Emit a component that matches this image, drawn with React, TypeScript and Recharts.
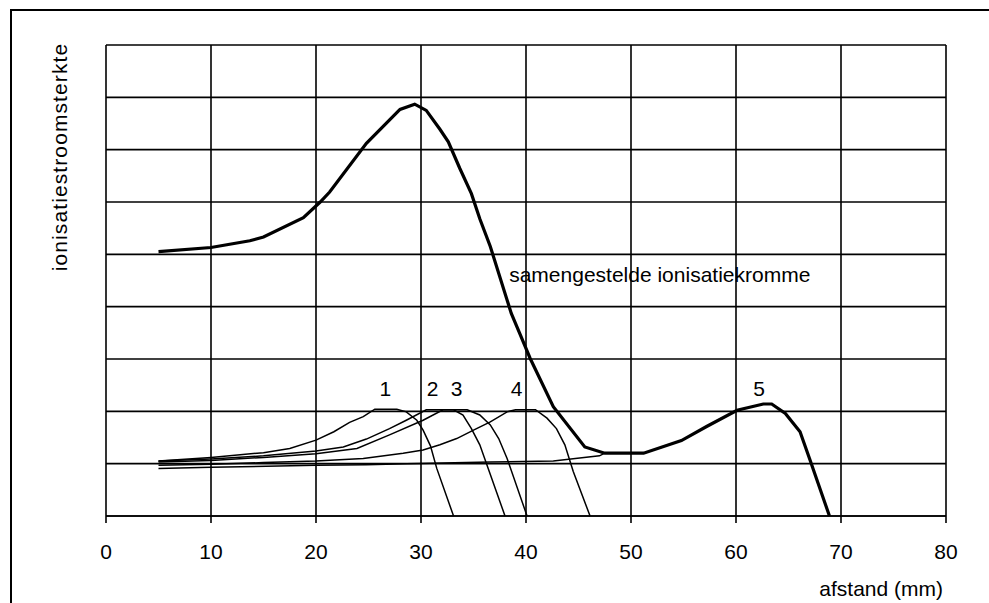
import { LineChart, Line, XAxis, YAxis, CartesianGrid, Scatter } from "recharts";

const xTicks = [0, 10, 20, 30, 40, 50, 60, 70, 80];
const yTicks = [0, 1, 2, 3, 4, 5, 6, 7, 8, 9];

// individual ionisation curves (x in mm, y in grid units)
const curve1 = [
  { x: 5, y: 1.05 }, { x: 10, y: 1.12 }, { x: 15, y: 1.21 }, { x: 17.5, y: 1.29 },
  { x: 20, y: 1.45 }, { x: 21.7, y: 1.61 }, { x: 23.2, y: 1.79 }, { x: 24.5, y: 1.9 },
  { x: 25.6, y: 2.04 }, { x: 27.7, y: 2.04 }, { x: 28.6, y: 1.99 }, { x: 29.6, y: 1.83 },
  { x: 30.2, y: 1.64 }, { x: 30.9, y: 1.34 }, { x: 31.5, y: 0.91 }, { x: 33.1, y: 0 },
];
const curve2 = [
  { x: 5, y: 1.05 }, { x: 10, y: 1.09 }, { x: 15, y: 1.15 }, { x: 20, y: 1.24 },
  { x: 22.6, y: 1.32 }, { x: 24.8, y: 1.47 }, { x: 27, y: 1.67 }, { x: 28.6, y: 1.83 },
  { x: 30.5, y: 2.03 }, { x: 33.1, y: 2.03 }, { x: 34, y: 1.93 }, { x: 34.8, y: 1.67 },
  { x: 35.6, y: 1.36 }, { x: 36.4, y: 0.91 }, { x: 38, y: 0 },
];
const curve3 = [
  { x: 5, y: 1.03 }, { x: 10, y: 1.06 }, { x: 15, y: 1.12 }, { x: 20, y: 1.19 },
  { x: 23.9, y: 1.29 }, { x: 27, y: 1.55 }, { x: 30.2, y: 1.83 }, { x: 32.1, y: 2.03 },
  { x: 34.4, y: 2.03 }, { x: 35.6, y: 1.93 }, { x: 36.6, y: 1.74 }, { x: 37.4, y: 1.48 },
  { x: 38.2, y: 1.1 }, { x: 40.1, y: 0 },
];
const curve4 = [
  { x: 5, y: 0.97 }, { x: 10, y: 0.99 }, { x: 15, y: 1.02 }, { x: 20, y: 1.05 },
  { x: 24.5, y: 1.1 }, { x: 28.3, y: 1.2 }, { x: 30.2, y: 1.26 }, { x: 31.8, y: 1.36 },
  { x: 33.4, y: 1.48 }, { x: 35, y: 1.64 }, { x: 36.6, y: 1.8 }, { x: 38.2, y: 1.99 },
  { x: 39, y: 2.03 }, { x: 40.9, y: 2.03 }, { x: 42, y: 1.87 }, { x: 42.9, y: 1.67 },
  { x: 43.7, y: 1.36 }, { x: 44.5, y: 0.85 }, { x: 46.1, y: 0 },
];
const curve5 = [
  { x: 5, y: 0.91 }, { x: 10, y: 0.93 }, { x: 20, y: 0.97 }, { x: 24.8, y: 0.98 },
  { x: 28.6, y: 1.0 }, { x: 36.6, y: 1.03 }, { x: 42.6, y: 1.05 }, { x: 47, y: 1.15 },
  { x: 47.5, y: 1.2 },
];

// samengestelde ionisatiekromme
const composite = [
  { x: 5, y: 5.05 }, { x: 10, y: 5.13 }, { x: 13.7, y: 5.26 }, { x: 15, y: 5.33 },
  { x: 18.8, y: 5.7 }, { x: 20.4, y: 6.0 }, { x: 21.3, y: 6.19 }, { x: 24.8, y: 7.12 },
  { x: 28, y: 7.77 }, { x: 29.4, y: 7.87 }, { x: 30.5, y: 7.75 }, { x: 31.8, y: 7.39 },
  { x: 32.6, y: 7.15 }, { x: 33.7, y: 6.64 }, { x: 34.8, y: 6.16 }, { x: 35.6, y: 5.68 },
  { x: 36.6, y: 5.15 }, { x: 38.6, y: 3.87 }, { x: 39.4, y: 3.49 }, { x: 40.4, y: 3.01 },
  { x: 42.6, y: 2.09 }, { x: 45.6, y: 1.32 }, { x: 47.5, y: 1.2 }, { x: 51.2, y: 1.2 },
  { x: 54.8, y: 1.44 }, { x: 57.2, y: 1.71 }, { x: 60.1, y: 2.02 }, { x: 62.6, y: 2.14 },
  { x: 63.4, y: 2.14 }, { x: 64.7, y: 1.96 }, { x: 66.1, y: 1.61 }, { x: 67, y: 1.1 },
  { x: 68.9, y: 0 },
];

const peakLabels = [
  { x: 26.6, y: 2.44, text: "1" },
  { x: 31.1, y: 2.44, text: "2" },
  { x: 33.4, y: 2.44, text: "3" },
  { x: 39.1, y: 2.44, text: "4" },
  { x: 62.2, y: 2.44, text: "5" },
];
const curveNote = [{ x: 38.4, y: 4.62, text: "samengestelde ionisatiekromme" }];

const FONT = "'Liberation Sans', Arial, sans-serif";

const labelShape = (anchor: string) => (props: any) => (
  <text
    x={props.cx}
    y={props.cy}
    textAnchor={anchor}
    dominantBaseline="central"
    fontSize={21}
    fontFamily={FONT}
    fill="#000"
  >
    {props.payload.text}
  </text>
);

const thin = [curve1, curve2, curve3, curve4, curve5];

export default function App() {
  return (
    <div
      style={{
        position: "absolute",
        left: 0,
        top: 0,
        width: 989,
        height: 603,
        overflow: "hidden",
        background: "#fff",
        fontFamily: FONT,
      }}
    >
      <div
        style={{
          position: "absolute",
          left: 10,
          top: 9,
          width: 1200,
          height: 800,
          borderTop: "2px solid #000",
          borderLeft: "2px solid #000",
        }}
      />
      <div style={{ position: "absolute", left: 0, top: 0 }}>
        <LineChart
          width={989}
          height={603}
          margin={{ top: 45, right: 43, left: 106, bottom: 27 }}
        >
          <CartesianGrid stroke="#000" strokeWidth={1.6} horizontalValues={yTicks} />
          <XAxis
            type="number"
            dataKey="x"
            domain={[0, 80]}
            ticks={xTicks}
            interval={0}
            height={60}
            tickSize={7}
            tickMargin={21}
            tick={{ fill: "#000", fontSize: 21, fontFamily: FONT }}
            axisLine={{ stroke: "#000", strokeWidth: 1.6 }}
            tickLine={{ stroke: "#000", strokeWidth: 1.6 }}
          />
          <YAxis
            type="number"
            dataKey="y"
            domain={[0, 9]}
            ticks={yTicks}
            interval={0}
            width={0}
            tick={() => <g />}
            tickLine={false}
            axisLine={{ stroke: "#000", strokeWidth: 1.6 }}
          />
          {thin.map((d, i) => (
            <Line
              key={i}
              data={d}
              dataKey="y"
              type="linear"
              stroke="#000"
              strokeWidth={1.5}
              dot={false}
              isAnimationActive={false}
            />
          ))}
          <Line
            data={composite}
            dataKey="y"
            type="linear"
            stroke="#000"
            strokeWidth={3.2}
            dot={false}
            isAnimationActive={false}
          />
          <Scatter
            data={peakLabels}
            dataKey="y"
            shape={labelShape("middle")}
            isAnimationActive={false}
          />
          <Scatter
            data={curveNote}
            dataKey="y"
            shape={labelShape("start")}
            isAnimationActive={false}
          />
        </LineChart>
      </div>
      <svg
        width={989}
        height={603}
        style={{ position: "absolute", left: 0, top: 0, pointerEvents: "none" }}
      >
        <text
          x={943}
          y={596}
          textAnchor="end"
          fontSize={21}
          fontFamily={FONT}
          fill="#000"
        >
          afstand (mm)
        </text>
        <text
          transform="translate(67,157) rotate(-90)"
          textAnchor="middle"
          fontSize={21}
          letterSpacing={1.1}
          fontFamily={FONT}
          fill="#000"
        >
          ionisatiestroomsterkte
        </text>
      </svg>
    </div>
  );
}
